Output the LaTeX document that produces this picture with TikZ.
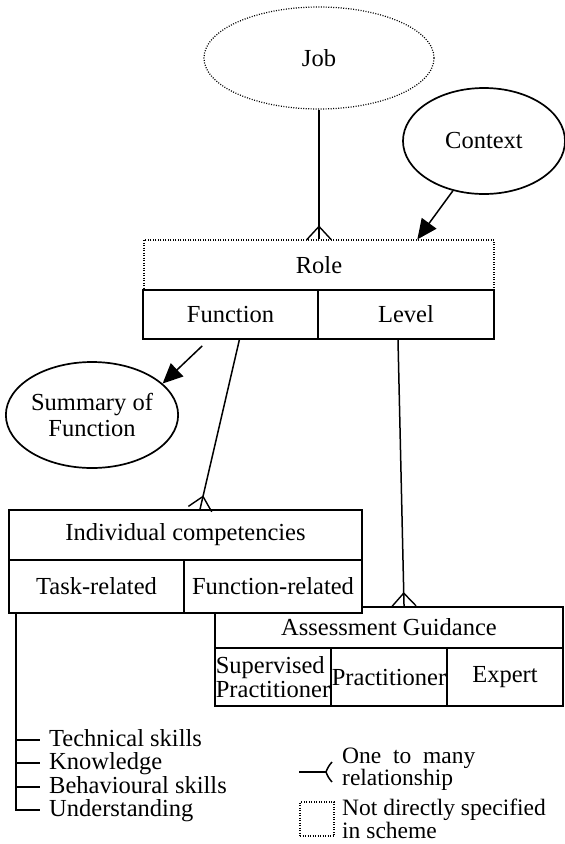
\documentclass[tikz,border=0pt]{standalone}
\usepackage{fontspec}
\setmainfont{Liberation Serif}
\usetikzlibrary{arrows.meta,calc,shapes.geometric,decorations.markings}

\newcommand\dgfont{\fontsize{24.5}{26}\selectfont}

\tikzset{
  conn/.style={line width=1.5pt},
  arr/.style={conn, -{Triangle[length=20pt,width=18pt]}},
  crowfoot/.style={postaction={decorate, decoration={markings,
      mark=at position 1 with {\draw[line width=1.4pt] (-13pt,0pt) -- (0pt,12pt) (-13pt,0pt) -- (0pt,-12pt);}}}},
  cell/.style={draw, line width=1.8pt, fill=white, inner sep=0pt, font=\dgfont},
  dotbox/.style={draw, line width=1.2pt, dash pattern=on 1pt off 1.5pt, inner sep=0pt, font=\dgfont},
  dotell/.style={ellipse, dotbox},
  solell/.style={ellipse, draw, line width=1.7pt, inner sep=0pt, font=\dgfont},
  lbl/.style={inner sep=0pt, font=\dgfont, anchor=base west},
  lgtext/.style={inner sep=0pt, align=left, anchor=west, font=\fontsize{23.5}{16}\selectfont},
  tree/.style={line width=1.7pt},
}

\begin{document}
\begin{tikzpicture}[x=1pt,y=-1pt]
\path[use as bounding box, fill=white] (0,0) rectangle (565,844);

% upper entities
\node[dotell, minimum width=230pt, minimum height=102pt] (job) at (319,58) {Job};
\node[solell, minimum width=162pt, minimum height=106pt] (ctx) at (484,141) {Context};
\node[dotbox, minimum width=350pt, minimum height=50pt] (role) at (319,265) {Role};
\node[cell, minimum width=175pt, minimum height=49pt] (func) at (230.5,314.5) {Function};
\node[cell, minimum width=176pt, minimum height=49pt] (level) at (406,314.5) {Level};

\node[solell, minimum width=162pt, minimum height=106pt, align=center] (sum) at (92,415) {Summary of\\Function};

% assessment guidance (partly hidden by the competencies table)
\node[cell, minimum width=348pt, minimum height=41pt] (assess) at (389,627.5) {Assessment Guidance};
\node[cell, minimum width=116pt, minimum height=58pt, align=left, font=\fontsize{24.5}{24}\selectfont] (sup) at (273,677) {Supervised\\Practitioner};
\node[cell, minimum width=116pt, minimum height=58pt] (prac) at (389,677) {Practitioner};
\node[cell, minimum width=116pt, minimum height=58pt] (expert) at (505,677) {Expert};

% individual competencies
\node[cell, minimum width=353pt, minimum height=50pt] (indiv) at (185.5,535) {Individual competencies};
\node[cell, minimum width=175pt, minimum height=53pt] (task) at (96.5,586.5) {Task-related};
\node[cell, minimum width=178pt, minimum height=53pt] (funcrel) at (273,586.5) {Function-related};

% connectors
\draw[conn, crowfoot] (job.south) -- (job.south |- role.north);
\draw[arr] (ctx.238) -- ($(role.north west)!0.78!(role.north east)$);
\draw[arr] ($(func.south west)!0.34!(func.south east) + (0,6)$) -- (sum.24);
\draw[conn, crowfoot] ($(func.south west)!0.55!(func.south east)$) -- ($(indiv.north west)!0.541!(indiv.north east)$);
\draw[conn, crowfoot] ($(level.south west)!0.455!(level.south east)$) -- ($(assess.north west)!0.543!(assess.north east)$);

% task-related breakdown
\node[lbl] (tech) at (49,746) {Technical skills};
\node[lbl] (know) at (49,769) {Knowledge};
\node[lbl] (behav) at (49,793) {Behavioural skills};
\node[lbl] (und) at (49,816) {Understanding};
\coordinate (treetop) at ([xshift=8pt]task.south west);
\foreach \n in {tech,know,behav,und}
  \coordinate (\n-tick) at ([xshift=-9pt,yshift=6pt]\n.base west);
\draw[tree] (treetop) |- (und-tick);
\foreach \n in {tech,know,behav}
  \draw[tree] (treetop |- \n-tick) -- (\n-tick);

% legend
\coordinate (lgA) at (299,772);
\coordinate (lgB) at (326,772);
\draw[tree] (lgA) -- (lgB);
\draw[conn] (lgB) to[bend left=10] ++(6,-10);
\draw[conn] (lgB) to[bend right=10] ++(6,10);
\node[lgtext] (lg1) at (342,769) {One\ \ to\ \ many\\relationship};
\node[dotbox, minimum width=34pt, minimum height=34pt] (lgbox) at (317,819) {};
\node[lgtext] (lg2) at (342,819) {Not directly specified\\in scheme};
\end{tikzpicture}
\end{document}
